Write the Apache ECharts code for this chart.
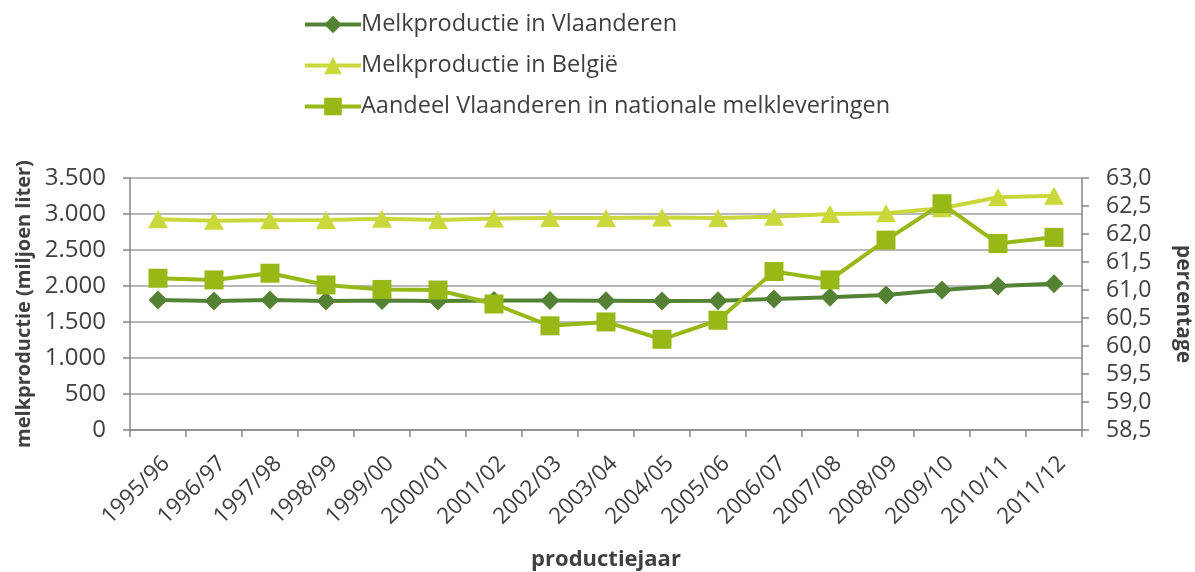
<!DOCTYPE html>
<html>
<head>
<meta charset="utf-8">
<script src="https://cdn.jsdelivr.net/npm/echarts@6/dist/echarts.min.js"></script>
<style>html,body{margin:0;padding:0;background:#fff}#c{width:1195px;height:572px}</style>
</head>
<body>
<div id="c"></div>
<script>
const categories = ['1995/96','1996/97','1997/98','1998/99','1999/00','2000/01','2001/02','2002/03','2003/04','2004/05','2005/06','2006/07','2007/08','2008/09','2009/10','2010/11','2011/12'];
const vlaanderen = [1805,1790,1805,1790,1800,1790,1800,1800,1795,1790,1795,1820,1845,1875,1945,2000,2030];
const belgie = [2926,2907,2912,2917,2935,2917,2938,2944,2944,2951,2944,2963,3000,3009,3079,3232,3255];
const aandeel = [61.21,61.18,61.30,61.09,61.01,61.00,60.75,60.36,60.43,60.12,60.46,61.33,61.18,61.89,62.54,61.83,61.94];
const leftTicks = {min:0,max:3500,interval:500};
const rightTicks = {min:58.5,max:63.0,interval:0.5};

const FONT = "'Open Sans', 'Noto Sans', sans-serif";
const TXT = '#404040';
const AX = '#868686';
const chart = echarts.init(document.getElementById('c'), null, {renderer:'canvas'});
chart.setOption({
  animation:false,
  textStyle:{fontFamily:FONT},
  legend:{
    orient:'vertical', left:298, top:7, itemGap:16, itemWidth:56, itemHeight:22,
    lineStyle:{width:4},
    textStyle:{fontSize:23.5, lineHeight:25, color:TXT, fontFamily:FONT, padding:[0,0,0,-5]},
    data:['Melkproductie in Vlaanderen','Melkproductie in België','Aandeel Vlaanderen in nationale melkleveringen']
  },
  grid:{left:130,right:113,top:178,bottom:142,outerBoundsMode:'none',containLabel:false},
  xAxis:{
    type:'category', data:categories, boundaryGap:true,
    name:'productiejaar', nameLocation:'middle', nameGap:119,
    nameTextStyle:{fontSize:22,fontWeight:'bold',color:TXT,fontFamily:FONT},
    axisLine:{lineStyle:{color:AX,width:1.5}},
    axisTick:{show:true,alignWithLabel:false,length:7,lineStyle:{color:AX,width:1.5}},
    axisLabel:{rotate:45,fontSize:22.5,color:TXT,margin:22,interval:0,fontFamily:FONT,verticalAlign:'top'}
  },
  yAxis:[{
    type:'value', min:leftTicks.min, max:leftTicks.max, interval:leftTicks.interval,
    name:'melkproductie (miljoen liter)', nameLocation:'middle', nameGap:96, nameRotate:90,
    nameTextStyle:{fontSize:20,fontWeight:'bold',color:TXT,fontFamily:FONT},
    axisLine:{show:true,lineStyle:{color:AX,width:1.5}},
    axisTick:{show:true,length:7,lineStyle:{color:AX,width:1.5}},
    splitLine:{show:true,lineStyle:{color:'#a0a0a0',width:1.5}},
    axisLabel:{fontSize:24,color:TXT,margin:24,fontFamily:FONT,
      formatter:v=>v.toLocaleString('de-DE')}
  },{
    type:'value', min:rightTicks.min, max:rightTicks.max, interval:rightTicks.interval, position:'right',
    name:'percentage', nameLocation:'middle', nameGap:90, nameRotate:-90,
    nameTextStyle:{fontSize:21,fontWeight:'bold',color:TXT,fontFamily:FONT},
    axisLine:{show:true,lineStyle:{color:AX,width:1.5}},
    axisTick:{show:true,length:7,lineStyle:{color:AX,width:1.5}},
    splitLine:{show:false},
    axisLabel:{fontSize:23,color:TXT,margin:24,fontFamily:FONT,
      formatter:v=>v.toFixed(1).replace('.',',')}
  }],
  series:[{
    name:'Melkproductie in Vlaanderen', type:'line', data:vlaanderen, yAxisIndex:0,
    symbol:'diamond', symbolSize:19, color:'#548235',
    lineStyle:{width:4,color:'#548235'}, itemStyle:{color:'#548235'}, z:3
  },{
    name:'Melkproductie in België', type:'line', data:belgie, yAxisIndex:0,
    symbol:'triangle', symbolSize:[20,18], color:'#cbd83c',
    lineStyle:{width:4,color:'#cbd83c'}, itemStyle:{color:'#cbd83c'}, z:2
  },{
    name:'Aandeel Vlaanderen in nationale melkleveringen', type:'line', data:aandeel, yAxisIndex:1,
    symbol:'rect', symbolSize:19, color:'#97b817',
    lineStyle:{width:4,color:'#97b817'}, itemStyle:{color:'#97b817'}, z:4
  }]
});
</script>
</body>
</html>
